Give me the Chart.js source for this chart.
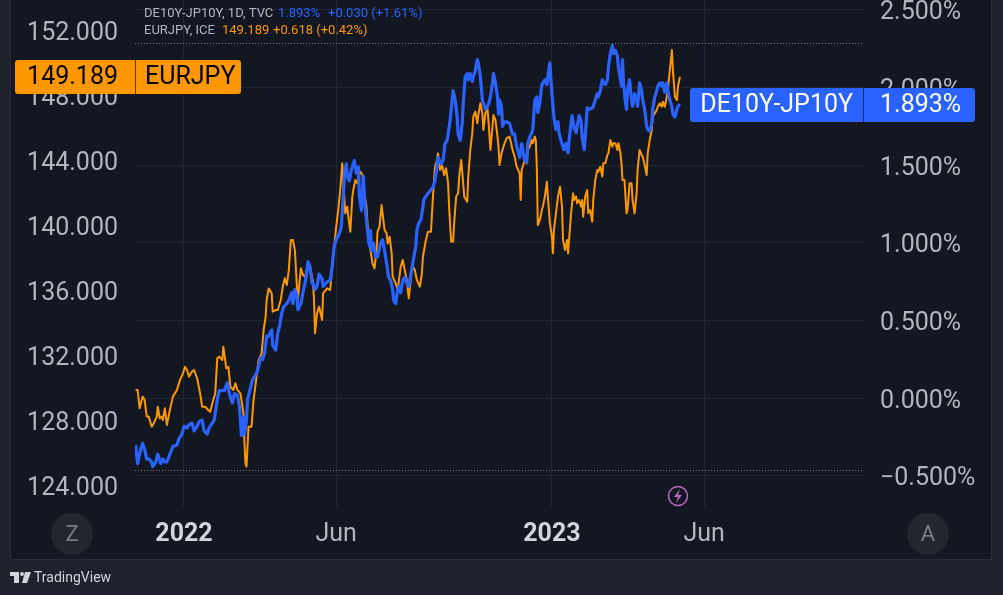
<!DOCTYPE html>
<html>
<head>
<meta charset="utf-8">
<script src="https://cdn.jsdelivr.net/npm/chart.js@4.4.1/dist/chart.umd.min.js"></script>
<style>
  html, body { margin: 0; padding: 0; background: #1e222d; overflow: hidden; }
  #wrap { position: relative; width: 1003px; height: 595px; }
</style>
</head>
<body>
<div id="wrap"><canvas id="chart" width="1003" height="595"></canvas></div>
<script>
// days counted from 2022-01-01
const eurjpyDays = [
  -48, -46, -44, -41, -39, -37, -35, -32, -30, -27, -26, -24, -22, -21, -19, -17, -14, -11, -7, -4,
  -1, 1, 3, 5, 8, 10, 13, 16, 18, 21, 24, 26, 29, 31, 33, 35, 38, 39, 42, 44,
  46, 49, 51, 53, 56, 59, 60, 61, 62, 64, 67, 69, 72, 74, 77, 79, 81, 82, 84, 87,
  88, 91, 93, 96, 98, 100, 102, 104, 106, 108, 110, 112, 113, 116, 118, 120, 122, 125, 128, 129,
  130, 132, 134, 137, 138, 142, 145, 148, 151, 153, 155, 157, 158, 160, 162, 163, 165, 167, 168, 170,
  172, 173, 175, 177, 178, 181, 182, 184, 185, 187, 189, 191, 192, 194, 196, 197, 199, 201, 202, 204,
  206, 207, 210, 212, 215, 217, 219, 221, 223, 226, 227, 229, 231, 234, 236, 237, 240, 242, 245, 247,
  249, 251, 252, 254, 256, 258, 260, 262, 263, 265, 267, 268, 270, 272, 273, 275, 277, 278, 281, 282,
  284, 286, 287, 289, 291, 292, 294, 296, 297, 299, 301, 302, 304, 306, 307, 309, 311, 312, 313, 315,
  316, 318, 320, 323, 326, 328, 330, 333, 334, 335, 336, 338, 340, 341, 343, 345, 346, 348, 349, 350,
  351, 353, 355, 356, 358, 360, 361, 363, 365, 366, 367, 369, 371, 373, 375, 376, 378, 380, 381, 382,
  384, 386, 387, 389, 390, 392, 394, 395, 396, 398, 400, 401, 403, 405, 406, 408, 410, 411, 413, 415,
  416, 418, 420, 421, 423, 425, 426, 428, 430, 431, 433, 434, 435, 437, 439, 440, 442, 444, 445, 447,
  449, 450, 452, 454, 455, 457, 459, 460, 462, 464, 465, 467, 469, 470, 472, 474, 475, 477, 479, 480,
  482, 484, 485, 487, 489, 490, 492
];
const eurjpyValues = [
  129.91, 129.91, 128.78, 129.50, 129.29, 128.27, 128.27, 127.65, 127.86, 128.27, 128.88, 128.16, 128.27, 128.06, 128.78, 127.75, 128.68, 129.50, 129.91, 130.52,
  130.93, 131.34, 131.14, 130.73, 131.04, 131.14, 130.63, 129.70, 128.88, 128.88, 128.68, 128.57, 129.29, 129.70, 131.86, 131.96, 131.75, 132.57, 131.24, 131.34,
  130.11, 129.91, 130.32, 129.91, 129.70, 128.47, 126.63, 125.39, 125.19, 127.65, 127.65, 129.29, 130.73, 131.75, 132.16, 133.60, 134.42, 135.45, 136.16, 135.86,
  134.73, 134.83, 134.83, 135.45, 136.27, 136.78, 136.37, 137.29, 139.14, 139.14, 138.52, 136.27, 135.45, 137.40, 136.98, 136.88, 137.29, 137.50, 136.57, 135.45,
  133.40, 134.63, 135.04, 134.22, 135.86, 136.16, 136.06, 138.11, 139.96, 140.98, 142.22, 143.86, 142.83, 140.78, 141.19, 140.57, 139.65, 141.81, 142.22, 142.83,
  142.63, 143.04, 143.34, 143.14, 142.42, 141.19, 140.16, 139.34, 138.52, 137.70, 137.39, 138.52, 139.65, 139.96, 141.29, 140.78, 139.75, 139.55, 138.93, 139.34,
  138.32, 136.88, 136.47, 136.06, 137.50, 137.91, 137.29, 136.68, 135.55, 137.29, 137.50, 137.29, 136.68, 136.27, 137.09, 138.11, 139.14, 139.65, 139.65, 141.81,
  143.65, 144.06, 144.47, 143.45, 143.75, 143.14, 143.55, 142.63, 141.19, 139.04, 139.04, 140.16, 141.81, 142.01, 143.04, 144.06, 142.63, 141.81, 141.50, 143.04,
  144.68, 145.70, 146.73, 147.04, 146.32, 146.83, 147.55, 146.93, 145.91, 146.93, 147.24, 146.52, 144.68, 146.11, 146.83, 146.52, 145.50, 144.88, 143.75, 144.47,
  144.68, 145.09, 145.40, 145.50, 144.68, 144.27, 143.65, 143.24, 141.60, 143.45, 143.65, 144.06, 143.86, 144.68, 144.88, 145.29, 145.09, 145.50, 145.29, 143.65,
  140.06, 140.37, 140.98, 141.19, 141.81, 142.73, 141.81, 140.16, 139.34, 138.32, 139.75, 140.78, 141.81, 142.42, 141.19, 139.14, 138.52, 139.14, 138.32, 139.14,
  140.78, 142.01, 141.60, 141.81, 141.40, 141.60, 141.19, 141.60, 140.57, 141.81, 142.22, 140.78, 140.98, 140.27, 141.60, 142.83, 143.45, 143.34, 143.65, 143.04,
  143.86, 143.86, 144.37, 144.47, 145.29, 144.88, 145.09, 145.09, 144.68, 145.09, 144.47, 143.86, 142.83, 142.83, 140.78, 140.98, 142.63, 142.63, 141.60, 140.78,
  142.01, 143.45, 144.68, 144.37, 144.27, 143.75, 143.14, 144.47, 145.29, 145.91, 146.73, 146.93, 147.14, 147.34, 147.55, 147.34, 147.65, 147.34, 147.96, 148.37,
  149.60, 150.83, 149.60, 147.96, 147.75, 148.57, 149.189
];

const spreadDays = [
  -48, -46, -43, -41, -39, -37, -35, -32, -31, -28, -26, -23, -21, -19, -17, -14, -11, -7, -5, -2,
  0, 3, 5, 8, 10, 13, 15, 18, 20, 23, 25, 28, 30, 33, 35, 38, 40, 43, 45, 48,
  50, 53, 55, 57, 59, 60, 62, 63, 66, 68, 71, 73, 76, 78, 80, 82, 84, 87, 88, 91,
  93, 95, 97, 99, 102, 104, 107, 108, 110, 112, 113, 116, 118, 121, 123, 125, 127, 128, 130, 132,
  134, 137, 138, 142, 145, 147, 149, 152, 153, 156, 158, 159, 161, 162, 164, 166, 168, 169, 171, 173,
  174, 176, 178, 179, 181, 183, 184, 185, 186, 188, 190, 192, 195, 197, 199, 201, 203, 205, 207, 208,
  210, 212, 213, 215, 217, 219, 221, 223, 225, 227, 230, 231, 233, 235, 237, 238, 240, 242, 245, 247,
  249, 251, 252, 255, 257, 259, 261, 262, 264, 266, 267, 269, 271, 272, 274, 276, 277, 279, 281, 282,
  284, 286, 287, 289, 291, 292, 294, 296, 297, 299, 301, 302, 304, 306, 307, 309, 311, 312, 313, 315,
  316, 318, 320, 323, 326, 328, 330, 333, 335, 336, 338, 340, 341, 343, 345, 346, 348, 350, 351, 353,
  355, 356, 358, 360, 361, 363, 364, 366, 367, 369, 371, 372, 374, 376, 377, 379, 381, 382, 384, 385,
  387, 389, 390, 392, 394, 395, 397, 398, 400, 402, 405, 406, 408, 410, 411, 413, 415, 416, 418, 420,
  421, 423, 425, 426, 428, 430, 431, 433, 434, 435, 436, 438, 439, 440, 442, 444, 445, 447, 449, 450,
  452, 454, 455, 457, 459, 460, 462, 464, 465, 467, 469, 470, 472, 474, 475, 477, 479, 480, 482, 484,
  485, 487, 489, 490, 492
];
const spreadValues = [
  -0.30, -0.42, -0.33, -0.29, -0.33, -0.39, -0.39, -0.41, -0.44, -0.41, -0.36, -0.42, -0.39, -0.41, -0.41, -0.36, -0.31, -0.30, -0.26, -0.23,
  -0.18, -0.19, -0.17, -0.16, -0.21, -0.18, -0.15, -0.14, -0.21, -0.23, -0.19, -0.16, -0.14, -0.01, 0.05, 0.05, 0.05, 0.10, 0.03, -0.03,
  0.03, 0.02, -0.05, -0.24, -0.12, -0.23, -0.14, -0.01, 0.07, 0.12, 0.15, 0.18, 0.26, 0.25, 0.29, 0.40, 0.40, 0.44, 0.34, 0.31,
  0.42, 0.47, 0.55, 0.59, 0.61, 0.63, 0.68, 0.61, 0.70, 0.66, 0.57, 0.61, 0.68, 0.77, 0.88, 0.85, 0.74, 0.74, 0.70, 0.72,
  0.80, 0.77, 0.72, 0.75, 0.76, 0.85, 0.98, 1.04, 1.04, 1.10, 1.30, 1.43, 1.51, 1.43, 1.40, 1.47, 1.51, 1.53, 1.45, 1.49,
  1.30, 1.21, 1.43, 1.28, 1.15, 1.02, 0.98, 1.08, 0.95, 1.00, 0.91, 0.91, 1.00, 1.02, 0.95, 0.87, 0.78, 0.76, 0.70, 0.63,
  0.61, 0.70, 0.72, 0.68, 0.76, 0.78, 0.74, 0.72, 0.80, 0.87, 0.98, 1.08, 1.13, 1.15, 1.23, 1.28, 1.30, 1.32, 1.34, 1.36,
  1.40, 1.49, 1.55, 1.51, 1.53, 1.64, 1.66, 1.70, 1.79, 1.92, 1.98, 1.92, 1.81, 1.70, 1.66, 1.77, 1.90, 2.07, 2.09, 2.05,
  2.09, 2.04, 2.07, 2.11, 2.18, 2.16, 2.07, 1.92, 1.90, 1.86, 1.88, 1.89, 1.94, 2.03, 2.09, 2.03, 1.94, 1.83, 1.92, 1.88,
  1.75, 1.78, 1.78, 1.77, 1.70, 1.70, 1.62, 1.55, 1.64, 1.60, 1.53, 1.52, 1.64, 1.68, 1.71, 1.73, 1.92, 1.94, 1.84, 1.90,
  2.02, 2.03, 2.05, 2.02, 2.07, 2.16, 2.05, 1.88, 1.81, 1.73, 1.78, 1.71, 1.66, 1.62, 1.60, 1.64, 1.58, 1.66, 1.77, 1.82,
  1.74, 1.71, 1.75, 1.82, 1.78, 1.68, 1.60, 1.68, 1.87, 1.86, 1.87, 1.88, 1.92, 1.96, 1.94, 1.98, 2.05, 2.03, 2.02, 2.05,
  2.13, 2.22, 2.27, 2.22, 2.24, 2.20, 2.13, 2.05, 2.01, 2.18, 2.03, 1.90, 1.86, 1.98, 2.05, 1.92, 1.88, 1.96, 1.92, 1.88,
  2.03, 1.98, 1.92, 1.86, 1.75, 1.73, 1.72, 1.77, 1.86, 1.94, 1.98, 2.01, 2.03, 2.01, 2.03, 1.97, 2.03, 1.98, 1.92, 1.88,
  1.83, 1.81, 1.86, 1.88, 1.893
];

const timeTicks = [0, 151, 365, 516];
const timeLabels = ['2022', 'Jun', '2023', 'Jun'];
const eurjpyTicks = [124, 128, 132, 136, 140, 144, 148, 152];
const spreadTicks = [-0.5, 0, 0.5, 1, 1.5, 2, 2.5];

const BLUE = '#2962ff';
const ORANGE = '#ff9800';
const FONT = 'Roboto, "Liberation Sans", sans-serif';

function fmtPct(v) {
  return (v < 0 ? '\u2212' : '') + Math.abs(v).toFixed(3) + '%';
}

function isYear(ctx) {
  return ctx.tick && /^\d{4}$/.test(timeLabels[timeTicks.indexOf(ctx.tick.value)]);
}

function noPad(scale) {
  scale.paddingTop = 0; scale.paddingBottom = 0;
  scale.paddingLeft = 0; scale.paddingRight = 0;
}

function badge(c, x0, x1, xs, yc, fill, left, right, color, gapL, gapR) {
  const h = 34;
  c.fillStyle = fill;
  c.beginPath();
  c.roundRect(x0, yc - h / 2, x1 - x0, h, 3);
  c.fill();
  c.fillStyle = 'rgba(19,23,34,0.7)';
  c.fillRect(xs, yc - h / 2, 1, h);
  c.fillStyle = color;
  c.font = '25px ' + FONT;
  c.textBaseline = 'middle';
  c.textAlign = 'right';
  c.fillText(left, xs - gapL, yc + 1);
  c.textAlign = 'left';
  c.fillText(right, xs + gapR, yc + 1);
}

const decor = {
  id: 'decor',
  beforeDraw(chart) {
    const c = chart.ctx;
    c.save();
    c.fillStyle = '#1e222d';
    c.fillRect(0, 0, 1003, 595);
    c.fillStyle = '#131722';
    c.fillRect(10, 0, 982, 559);
    c.strokeStyle = '#2a2e39';
    c.lineWidth = 1;
    c.strokeRect(10.5, -1, 981, 560.5);
    c.restore();
  },
  beforeDatasetsDraw(chart) {
    // high / low lines of the spread series
    const c = chart.ctx, a = chart.chartArea, yR = chart.scales.yR;
    const hi = Math.max(...spreadValues), lo = Math.min(...spreadValues);
    c.save();
    c.strokeStyle = '#787b86';
    c.lineWidth = 1;
    c.setLineDash([1, 2]);
    [[hi, -3], [lo, 3]].forEach(([v, off]) => {
      const y = Math.round(yR.getPixelForValue(v) + off) + 0.5;
      c.beginPath();
      c.moveTo(a.left, y);
      c.lineTo(a.right, y);
      c.stroke();
    });
    c.restore();
  },
  afterDraw(chart) {
    const c = chart.ctx, yL = chart.scales.yL, yR = chart.scales.yR;
    c.save();

    // legend
    c.font = '13px ' + FONT;
    c.textBaseline = 'middle';
    c.textAlign = 'left';
    c.fillStyle = '#b2b5be';
    c.fillText('DE10Y-JP10Y, 1D, TVC', 144, 14);
    c.fillText('EURJPY, ICE', 144, 31);
    c.fillStyle = BLUE;
    c.fillText(spreadValues[spreadValues.length - 1].toFixed(3) + '%', 278, 14);
    c.fillText('+0.030 (+1.61%)', 328, 14);
    c.fillStyle = ORANGE;
    c.fillText(eurjpyValues[eurjpyValues.length - 1].toFixed(3), 222, 31);
    c.fillText('+0.618 (+0.42%)', 273, 31);

    // last value badges
    const lastL = eurjpyValues[eurjpyValues.length - 1];
    const lastR = spreadValues[spreadValues.length - 1];
    badge(c, 15, 241, 135, Math.round(yL.getPixelForValue(lastL)), ORANGE, lastL.toFixed(3), 'EURJPY', '#000', 17, 10);
    badge(c, 690, 975, 863, Math.round(yR.getPixelForValue(lastR)) + 1, BLUE, 'DE10Y-JP10Y', fmtPct(lastR), '#fff', 10, 17);

    // scale mode buttons
    [[72, 'Z'], [928, 'A']].forEach(([x, t]) => {
      c.fillStyle = '#22262f';
      c.beginPath();
      c.arc(x, 534, 21, 0, Math.PI * 2);
      c.fill();
      c.fillStyle = '#787b86';
      c.font = '22px ' + FONT;
      c.textAlign = 'center';
      c.textBaseline = 'middle';
      c.fillText(t, x, 535);
    });

    // event marker
    c.strokeStyle = '#ba68c8';
    c.lineWidth = 1.5;
    c.beginPath();
    c.arc(678, 496, 9.5, 0, Math.PI * 2);
    c.stroke();
    c.fillStyle = '#ba68c8';
    c.beginPath();
    c.moveTo(680, 489); c.lineTo(674, 497); c.lineTo(678, 497);
    c.lineTo(676, 503); c.lineTo(682, 495); c.lineTo(678, 495);
    c.closePath();
    c.fill();

    // logo
    c.fillStyle = '#d1d4dc';
    c.fillRect(10, 572, 9, 4);
    c.fillRect(14, 572, 5, 11);
    c.beginPath();
    c.arc(22, 574, 2, 0, Math.PI * 2);
    c.fill();
    c.beginPath();
    c.moveTo(25, 572); c.lineTo(31, 572); c.lineTo(27, 583); c.lineTo(22, 583);
    c.closePath();
    c.fill();
    c.font = '14px ' + FONT;
    c.textAlign = 'left';
    c.textBaseline = 'middle';
    c.fillText('TradingView', 34, 578);

    c.restore();
  }
};

new Chart(document.getElementById('chart'), {
  type: 'line',
  data: {
    datasets: [
      {
        label: 'DE10Y-JP10Y',
        data: spreadDays.map((d, i) => ({ x: d, y: spreadValues[i] })),
        yAxisID: 'yR',
        borderColor: BLUE,
        borderWidth: 3.2,
        pointRadius: 0,
        tension: 0,
        borderJoinStyle: 'round'
      },
      {
        label: 'EURJPY',
        data: eurjpyDays.map((d, i) => ({ x: d, y: eurjpyValues[i] })),
        yAxisID: 'yL',
        borderColor: ORANGE,
        borderWidth: 2,
        pointRadius: 0,
        tension: 0,
        borderJoinStyle: 'round'
      }
    ]
  },
  options: {
    responsive: false,
    animation: false,
    devicePixelRatio: 1,
    layout: { padding: { left: 10, right: 11, top: 0, bottom: 36 } },
    plugins: { legend: { display: false }, tooltip: { enabled: false } },
    scales: {
      x: {
        type: 'linear',
        min: -48.6,
        max: 673.6,
        afterBuildTicks: s => { s.ticks = timeTicks.map(v => ({ value: v })); },
        afterFit: s => { s.height = 51; noPad(s); },
        border: { display: false },
        grid: { color: '#232632', drawTicks: false },
        ticks: {
          autoSkip: false,
          maxRotation: 0,
          padding: 12,
          callback: v => timeLabels[timeTicks.indexOf(v)],
          font: ctx => ({ family: FONT, size: 25, weight: isYear(ctx) ? 'bold' : 'normal' }),
          color: ctx => isYear(ctx) ? '#d1d4dc' : '#b2b5be'
        }
      },
      yL: {
        position: 'left',
        min: 122.646,
        max: 153.908,
        afterBuildTicks: s => { s.ticks = eurjpyTicks.map(v => ({ value: v })); },
        afterFit: s => { s.width = 125; noPad(s); },
        border: { display: false },
        grid: { display: false, drawTicks: false },
        ticks: {
          padding: 17,
          labelOffset: 3,
          color: '#b2b5be',
          font: { family: FONT, size: 25 },
          callback: v => v.toFixed(3)
        }
      },
      yR: {
        position: 'right',
        min: -0.706,
        max: 2.564,
        afterBuildTicks: s => { s.ticks = spreadTicks.map(v => ({ value: v })); },
        afterFit: s => { s.width = 129; noPad(s); },
        border: { display: false },
        grid: { color: '#232632', drawTicks: false },
        ticks: {
          padding: 17,
          labelOffset: 3,
          color: '#b2b5be',
          font: { family: FONT, size: 25 },
          callback: v => fmtPct(v)
        }
      }
    }
  },
  plugins: [decor]
});
</script>
</body>
</html>
